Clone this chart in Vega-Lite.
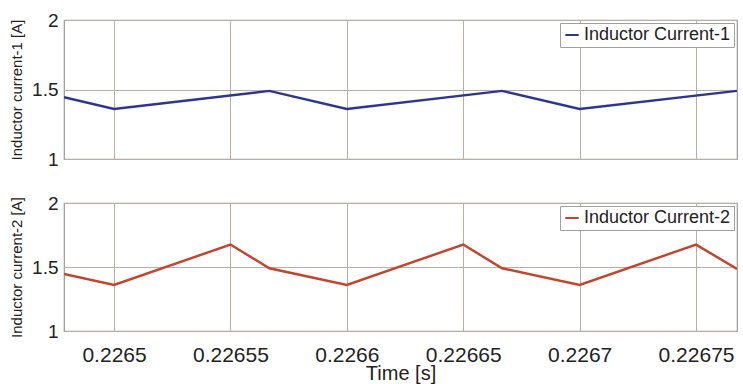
{
  "$schema": "https://vega.github.io/schema/vega-lite/v6.json",
  "padding": {"left": 8, "top": 10, "right": 5, "bottom": 0},
  "background": "white",
  "spacing": 23,
  "config": {
    "font": "Liberation Sans",
    "view": {"stroke": "#9a9a9a", "strokeWidth": 1.2},
    "axis": {
      "gridColor": "#b8aea6",
      "gridOpacity": 1,
      "gridWidth": 1,
      "domain": false,
      "ticks": false,
      "labelColor": "#222",
      "titleColor": "#222",
      "labelFont": "Liberation Sans",
      "titleFont": "Liberation Sans",
      "titleFontWeight": "normal"
    },
    "legend": {
      "orient": "top-right",
      "offset": 3,
      "title": null,
      "strokeColor": "#a0a0a0",
      "fillColor": "white",
      "padding": 3,
      "symbolType": "stroke",
      "symbolSize": 180,
      "symbolStrokeWidth": 2,
      "labelFontSize": 18,
      "labelFont": "Liberation Sans",
      "labelColor": "#222",
      "labelOffset": 3,
      "cornerRadius": 0
    }
  },
  "data": {
    "values": [
      {"panel": "1", "series": "Inductor Current-1", "t": 0.2264785, "i": 1.445},
      {"panel": "1", "series": "Inductor Current-1", "t": 0.2265, "i": 1.36},
      {"panel": "1", "series": "Inductor Current-1", "t": 0.2265667, "i": 1.49},
      {"panel": "1", "series": "Inductor Current-1", "t": 0.2266, "i": 1.36},
      {"panel": "1", "series": "Inductor Current-1", "t": 0.2266667, "i": 1.49},
      {"panel": "1", "series": "Inductor Current-1", "t": 0.2267, "i": 1.36},
      {"panel": "1", "series": "Inductor Current-1", "t": 0.2267676, "i": 1.49},
      {"panel": "2", "series": "Inductor Current-2", "t": 0.2264785, "i": 1.445},
      {"panel": "2", "series": "Inductor Current-2", "t": 0.2265, "i": 1.36},
      {"panel": "2", "series": "Inductor Current-2", "t": 0.22655, "i": 1.675},
      {"panel": "2", "series": "Inductor Current-2", "t": 0.2265667, "i": 1.49},
      {"panel": "2", "series": "Inductor Current-2", "t": 0.2266, "i": 1.36},
      {"panel": "2", "series": "Inductor Current-2", "t": 0.22665, "i": 1.675},
      {"panel": "2", "series": "Inductor Current-2", "t": 0.2266667, "i": 1.49},
      {"panel": "2", "series": "Inductor Current-2", "t": 0.2267, "i": 1.36},
      {"panel": "2", "series": "Inductor Current-2", "t": 0.22675, "i": 1.675},
      {"panel": "2", "series": "Inductor Current-2", "t": 0.2267676, "i": 1.485}
    ]
  },
  "vconcat": [
    {
      "width": 673,
      "height": 139,
      "transform": [{"filter": "datum.panel == '1'"}],
      "mark": {"type": "line", "strokeWidth": 2.4, "clip": true},
      "encoding": {
        "x": {
          "field": "t", "type": "quantitative",
          "scale": {"domain": [0.2264785, 0.2267676], "nice": false, "zero": false},
          "axis": {"values": [0.2265, 0.22655, 0.2266, 0.22665, 0.2267, 0.22675], "labels": false, "title": null}
        },
        "y": {
          "field": "i", "type": "quantitative",
          "scale": {"domain": [1, 2], "nice": false, "zero": false},
          "axis": {"values": [1, 1.5, 2], "format": "~g", "labelFontSize": 19, "labelPadding": 6, "title": "Inductor current-1 [A]", "titleFontSize": 15, "titlePadding": 7}
        },
        "color": {
          "field": "series", "type": "nominal",
          "scale": {"domain": ["Inductor Current-1"], "range": ["#2e3590"]}
        }
      }
    },
    {
      "width": 673,
      "height": 128,
      "transform": [{"filter": "datum.panel == '2'"}],
      "mark": {"type": "line", "strokeWidth": 2.4, "clip": true},
      "encoding": {
        "x": {
          "field": "t", "type": "quantitative",
          "scale": {"domain": [0.2264785, 0.2267676], "nice": false, "zero": false},
          "axis": {"values": [0.2265, 0.22655, 0.2266, 0.22665, 0.2267, 0.22675], "format": "~g", "labelFontSize": 21, "labelPadding": 13, "title": "Time [s]", "titleFontSize": 20, "titlePadding": -2}
        },
        "y": {
          "field": "i", "type": "quantitative",
          "scale": {"domain": [1, 2], "nice": false, "zero": false},
          "axis": {"values": [1, 1.5, 2], "format": "~g", "labelFontSize": 19, "labelPadding": 6, "title": "Inductor current-2 [A]", "titleFontSize": 15, "titlePadding": 7}
        },
        "color": {
          "field": "series", "type": "nominal",
          "scale": {"domain": ["Inductor Current-2"], "range": ["#c4432a"]}
        }
      }
    }
  ],
  "resolve": {"scale": {"color": "independent"}, "legend": {"color": "independent"}}
}
